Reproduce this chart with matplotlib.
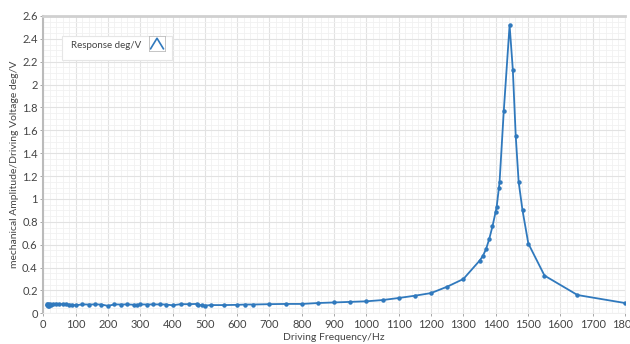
import matplotlib.pyplot as plt
from matplotlib.ticker import MultipleLocator

# frequency sweep (Hz) and measured response (deg/V)
freqs = [10, 12, 14, 16, 18, 20, 25, 30, 40, 50, 60, 70, 80, 90, 100,
         120, 140, 160, 180, 200, 220, 240, 260, 280, 290, 300, 320, 340,
         360, 380, 400, 425, 450, 475, 480, 490, 500, 520, 560, 600, 625,
         650, 700, 750, 800, 850, 900, 950, 1000, 1050, 1100, 1150, 1200,
         1250, 1300, 1350, 1360, 1370, 1380, 1390, 1400, 1403, 1410, 1412,
         1425, 1443, 1453, 1462, 1471, 1483, 1501, 1551, 1653, 1800]
response = [0.07, 0.085, 0.06, 0.08, 0.065, 0.085, 0.07, 0.08, 0.085, 0.08,
            0.08, 0.078, 0.077, 0.075, 0.07, 0.078, 0.077, 0.078, 0.077, 0.065,
            0.078, 0.077, 0.078, 0.075, 0.072, 0.078, 0.077, 0.078, 0.078, 0.077,
            0.07, 0.08, 0.08, 0.082, 0.075, 0.07, 0.068, 0.072, 0.072, 0.074,
            0.077, 0.077, 0.08, 0.082, 0.082, 0.09, 0.095, 0.1, 0.105, 0.116,
            0.134, 0.154, 0.177, 0.233, 0.30, 0.46, 0.50, 0.56, 0.65, 0.76,
            0.89, 0.93, 1.10, 1.15, 1.77, 2.52, 2.13, 1.55, 1.15, 0.90,
            0.61, 0.33, 0.16, 0.09]

blue = '#3079bd'
txt = '#444444'

plt.rcParams['font.family'] = ['Lato', 'DejaVu Sans']

fig = plt.figure(figsize=(6.3, 3.44), dpi=100)
ax = fig.add_axes([0.0687, 0.0892, 0.9233, 0.8643])

ax.plot(freqs, response, '-o', color=blue, lw=1.3, ms=2.2, zorder=3)

ax.set_xlim(0, 1800)
ax.set_ylim(0, 2.6)
ax.xaxis.set_major_locator(MultipleLocator(100))
ax.xaxis.set_minor_locator(MultipleLocator(20))
ax.yaxis.set_major_locator(MultipleLocator(0.2))
ax.yaxis.set_minor_locator(MultipleLocator(0.05))
ax.set_yticks([i * 0.2 for i in range(14)])
ax.set_yticklabels(['0', '0.2', '0.4', '0.6', '0.8', '1', '1.2', '1.4', '1.6',
                    '1.8', '2', '2.2', '2.4', '2.6'])

ax.grid(which='major', color='#e2e2e2', lw=0.8)
ax.grid(which='minor', color='#f1f1f1', lw=0.6)
ax.set_axisbelow(True)

ax.tick_params(which='major', labelsize=8, colors='#999999', labelcolor=txt,
               length=2.5, width=0.6, pad=1.5)
ax.tick_params(which='minor', length=0)

for s in ['right', 'bottom']:
    ax.spines[s].set_color('#eeeeee')
    ax.spines[s].set_linewidth(0.6)
ax.spines['top'].set_color('#d0d0d0')
ax.spines['top'].set_linewidth(2)
ax.spines['left'].set_color('#bbbbbb')
ax.spines['left'].set_linewidth(1.5)

ax.set_xlabel('Driving Frequency/Hz', fontsize=7.5, color=txt, labelpad=2.5)
ax.set_ylabel('mechanical Amplitude/Driving Voltage deg/V', fontsize=7.5,
              color=txt, labelpad=2)

# legend box with line icon
fig.patches.append(plt.Rectangle((62 / 630, 1 - 60 / 344), 110 / 630, 24 / 344,
                                 transform=fig.transFigure, facecolor='white',
                                 edgecolor='#e6e6e6', lw=0.8, zorder=5))
fig.text(71 / 630, 1 - 45 / 344, 'Response deg/V', fontsize=7, color=txt,
         va='center', ha='left', zorder=6)
icon = fig.add_axes([149 / 630, 1 - 51 / 344, 16 / 630, 15 / 344], zorder=7)
icon.plot([0.1, 0.5, 0.9], [0.15, 0.85, 0.15], color=blue, lw=1.2)
icon.set_xlim(0, 1)
icon.set_ylim(0, 1)
icon.set_xticks([])
icon.set_yticks([])
for s in icon.spines.values():
    s.set_color('#bbbbbb')
    s.set_linewidth(0.6)

fig.savefig('out.png', dpi=100)
